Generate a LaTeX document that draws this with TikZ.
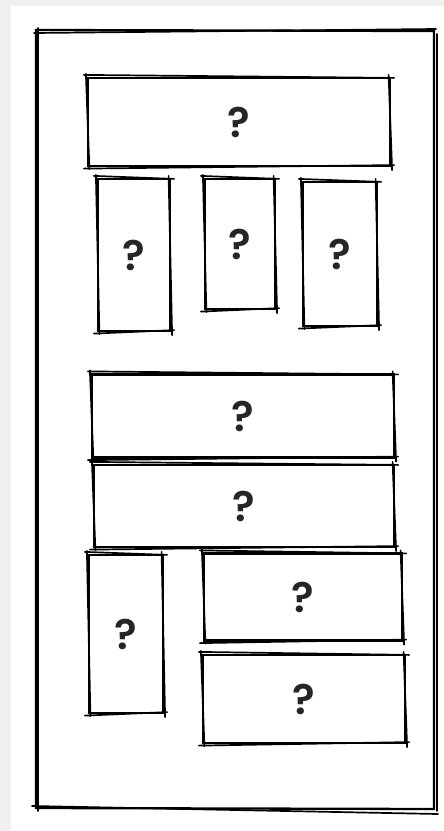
\documentclass[tikz,border=0pt]{standalone}
\usepackage{fontspec}
\setmainfont{Poppins}
\newfontfamily\qfont{Poppins SemiBold}
\tikzset{
  qbox/.style={shape=rectangle, draw, line width=2.2pt, inner sep=0,
    font=\qfont\fontsize{42}{42}\selectfont, text=black!85},
  rough/.style={line width=1.7pt, line cap=round},
  frame/.style={line width=2.3pt, line cap=round}
}
% second pen stroke round a node, a little off its corners
\newcommand{\roughbox}[1]{%
  \draw[rough] ([shift={(-3,-2)}]#1.north west) -- ([shift={(3,1)}]#1.north east);
  \draw[rough] ([shift={(-2.5,-2)}]#1.north east) -- ([shift={(1,3)}]#1.south east);
  \draw[rough] ([shift={(3,-2)}]#1.south east) -- ([shift={(-3,1.5)}]#1.south west);
  \draw[rough] ([shift={(2.5,2)}]#1.south west) -- ([shift={(-1,-3)}]#1.north west);
}

\begin{document}
\begin{tikzpicture}[x=1pt, y=-1pt]
\fill[black!6] (0,0) rectangle (444,831);
\fill[white] (11,6) rectangle (444,831);
\useasboundingbox (0,0) rectangle (444,831);

% outer frame
\coordinate (tl) at (36,30);
\coordinate (tr) at (434,31);
\coordinate (br) at (434,809);
\coordinate (bl) at (36,808);
\draw[frame] (tl)--(tr)--(br)--(bl)--cycle;
\draw[rough] (34,33)--(436,29);
\draw[rough] (38,28)--(38,811);
\draw[rough] (437,34)--(437,811);
\draw[rough] (32,806)--(438,814);

% top row
\node at (239,122)[qbox, minimum width=302, minimum height=88](top){?};
\node at (134,255)[qbox, minimum width=72, minimum height=152](a1){?};
\node at (240,244)[qbox, minimum width=70, minimum height=130](a2){?};
\node at (340,254)[qbox, minimum width=74, minimum height=144](a3){?};

% middle bars
\node at (243,416)[qbox, minimum width=302, minimum height=83](m1){?};
\node at (244,506)[qbox, minimum width=300, minimum height=82](m2){?};

% bottom group
\node at (126,634)[qbox, minimum width=74, minimum height=158](b1){?};
\node at (303,597)[qbox, minimum width=198, minimum height=87](b2){?};
\node at (304,699)[qbox, minimum width=202, minimum height=88](b3){?};

\foreach \n in {top,a1,a2,a3,m1,m2,b1,b2,b3} {\roughbox{\n}}
\end{tikzpicture}
\end{document}
